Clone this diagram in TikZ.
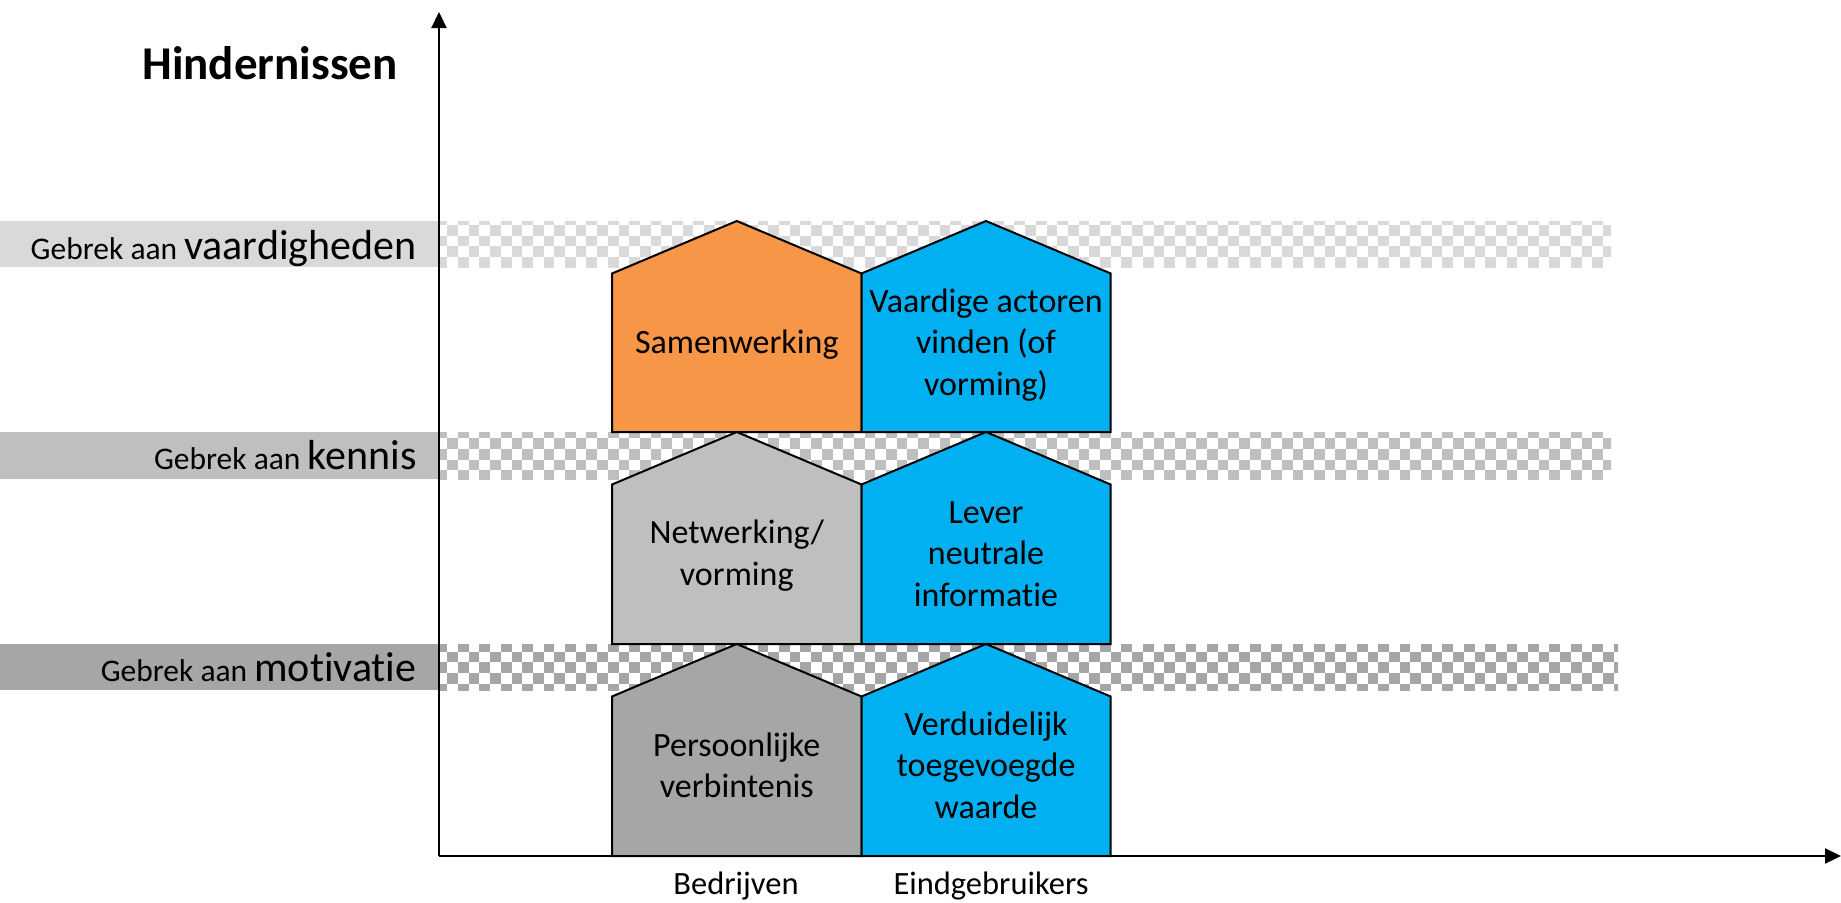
\documentclass[tikz,border=0pt]{standalone}
\usepackage{fontspec}
\setmainfont[Ligatures=NoCommon]{Carlito}
\usetikzlibrary{arrows.meta}
\definecolor{orangeF}{HTML}{F79646}
\definecolor{blueF}{HTML}{00B0F0}
\definecolor{grayA}{HTML}{D9D9D9}
\definecolor{grayB}{HTML}{BFBFBF}
\definecolor{grayC}{HTML}{A6A6A6}
\newcommand{\bandlabel}[2]{{\fontsize{31.5}{38}\selectfont #1 }{\fontsize{42}{50}\selectfont #2}}
\newcommand{\checkerband}[5]{%
  \begin{scope}
    \clip (439,#2) rectangle (#4,#3);
    \foreach \j in {0,...,5}{
      \pgfmathsetmacro\p{mod(\j,2)}
      \foreach \k in {0,...,56}{
        \fill[#1] ({436.6+(2*\k+\p)*10.7},{#5+\j*10.7}) rectangle ++(10.7,10.7);
      }}
  \end{scope}}
\tikzset{
  house/.style={draw=black, line width=2pt, line join=miter},
  htext/.style={font=\fontsize{34}{41.7}\selectfont, align=center, text=black},
  bandtext/.style={anchor=base east, text=black},
  axistext/.style={anchor=base, font=\fontsize{32.5}{39}\selectfont},
  axisline/.style={line width=2.2pt, -{Triangle[length=16pt,width=15pt]}}
}
\begin{document}
\begin{tikzpicture}[x=1pt,y=-1pt]
\useasboundingbox (0,0) rectangle (1841,902);
% band labels backgrounds
\fill[grayA] (0,221) rectangle (439,267);
\fill[grayB] (0,432) rectangle (439,479);
\fill[grayC] (0,644) rectangle (439,690);
% checker bands
\checkerband{grayA}{221}{267}{1611}{214.3}
\checkerband{grayB}{432}{479}{1611}{427.6}
\checkerband{grayC}{644}{690}{1618}{641}
% band labels
\node[bandtext] (l1) at (420,259) {\bandlabel{Gebrek aan}{vaardigheden}};
\node[bandtext] (l2) at (420,469) {\bandlabel{Gebrek aan}{kennis}};
\node[bandtext] (l3) at (420,681) {\bandlabel{Gebrek aan}{motivatie}};
% title
\node[anchor=base, font=\bfseries\fontsize{47}{56}\selectfont] (title) at (270,79) {Hindernissen};
% houses top row
\draw[house, fill=orangeF] (612,432) -- (612,273.5) -- (736.75,221) -- (861.5,273.5) -- (861.5,432) -- cycle;
\draw[house, fill=blueF] (861.5,432) -- (861.5,273.5) -- (986,221) -- (1110.7,273.5) -- (1110.7,432) -- cycle;
% middle row
\draw[house, fill=grayB] (612,644) -- (612,484.5) -- (736.75,432) -- (861.5,484.5) -- (861.5,644) -- cycle;
\draw[house, fill=blueF] (861.5,644) -- (861.5,484.5) -- (986,432) -- (1110.7,484.5) -- (1110.7,644) -- cycle;
% bottom row
\draw[house, fill=grayC] (612,856) -- (612,696.5) -- (736.75,644) -- (861.5,696.5) -- (861.5,856) -- cycle;
\draw[house, fill=blueF] (861.5,856) -- (861.5,696.5) -- (986,644) -- (1110.7,696.5) -- (1110.7,856) -- cycle;
% house texts
\node[htext] (h11) at (736.75,345.5) {\strut Samenwerking};
\node[htext] (h12) at (986,345.5) {\strut Vaardige actoren\\\strut vinden (of\\\strut vorming)};
\node[htext] (h21) at (736.75,556.5) {\strut Netwerking/\\\strut vorming};
\node[htext] (h22) at (986,556.5) {\strut Lever\\\strut neutrale\\\strut informatie};
\node[htext] (h31) at (736.75,768.5) {\strut Persoonlijke\\\strut verbintenis};
\node[htext] (h32) at (986,768.5) {\strut Verduidelijk\\\strut toegevoegde\\\strut waarde};
% axes
\coordinate (O) at (439,856);
\coordinate (Ytop) at (439,12);
\coordinate (Xend) at (1841,856);
\draw[axisline] (O) -- (Ytop);
\draw[axisline] (O) -- (Xend);
% axis labels
\node[axistext] (bedr) at (736,894) {Bedrijven};
\node[axistext] (eind) at (991,894) {Eindgebruikers};
\end{tikzpicture}
\end{document}
